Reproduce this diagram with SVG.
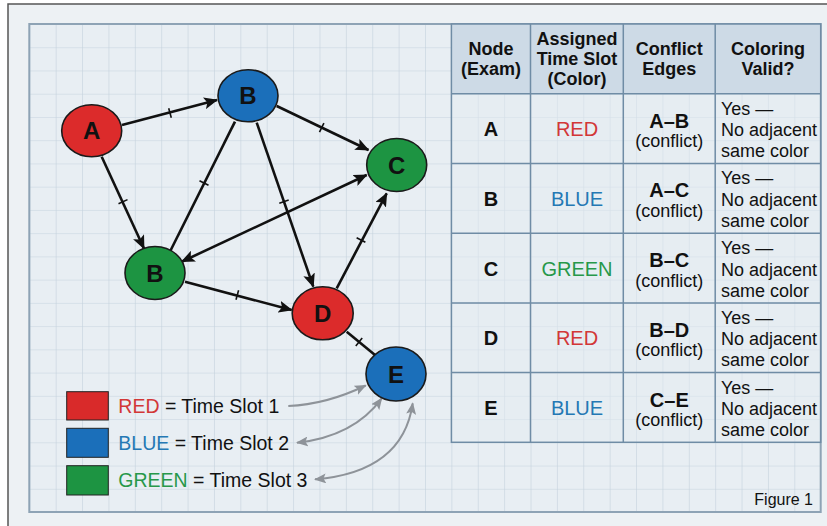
<svg xmlns="http://www.w3.org/2000/svg" width="827" height="526" viewBox="0 0 827 526">
<defs>
<style>
text{font-family:"Liberation Sans",Arial,sans-serif;fill:#111}
.lbl{font-size:24px;font-weight:bold;text-anchor:middle}
.node{stroke:#1a1a1a;stroke-width:1.6}
.red{fill:#dc2b2b}.blue{fill:#1b6fba}.green{fill:#1d9442}
.edge{stroke:#111;stroke-width:2.6;fill:none}
.tick{stroke:#111;stroke-width:1.6}
.gray{stroke:#8e9399;stroke-width:2;fill:none}
.hd{font-size:18px;font-weight:bold;text-anchor:middle}
.cell{font-size:18px;text-anchor:middle}
.big{font-size:20px;font-weight:bold;text-anchor:middle}
.col{font-size:20px;text-anchor:middle}
.val{font-size:18px}
.leg{font-size:19.5px}
.tl{stroke:#6f8ca5;stroke-width:1.5;fill:none}
</style>
<pattern id="grid" patternUnits="userSpaceOnUse" x="29.3" y="24" width="26.38" height="23.24">
<path d="M0 0H26.38M0 0V23.24" stroke="#c4d2dd" stroke-width="1.2" fill="none"/>
</pattern>
<marker id="ah" viewBox="0 0 14 12" refX="13" refY="6" markerWidth="14" markerHeight="12" markerUnits="userSpaceOnUse" orient="auto-start-reverse">
<path d="M0 0L14 6L0 12L3 6Z" fill="#111"/>
</marker>
<marker id="gh" viewBox="0 0 12 10" refX="11" refY="5" markerWidth="12" markerHeight="10" markerUnits="userSpaceOnUse" orient="auto-start-reverse">
<path d="M0 0L12 5L0 10L2.5 5Z" fill="#8e9399"/>
</marker>
</defs>
<rect x="0" y="0" width="827" height="526" fill="#ffffff"/>
<rect x="8" y="4" width="830" height="530" fill="#edf1f4" stroke="#555" stroke-width="1.5"/>
<rect x="29.3" y="24" width="791.4" height="488" fill="#e8eef3"/>
<rect x="29.3" y="24" width="791.4" height="488" fill="url(#grid)"/>
<rect x="29.3" y="24" width="791.4" height="488" fill="none" stroke="#8ea3b5" stroke-width="2"/>

<g id="table">
<rect x="451.4" y="24" width="369.3" height="69.7" fill="#cddae6"/>
<rect x="451.4" y="93.7" width="369.3" height="348.6" fill="#e4ebf1" fill-opacity="0.5"/>
<rect x="451.4" y="24" width="369.3" height="418.3" class="tl"/>
<path class="tl" d="M530.5 24V442.3M623.3 24V442.3M715.2 24V442.3M451.4 93.7H820.7M451.4 163.4H820.7M451.4 233.2H820.7M451.4 302.9H820.7M451.4 372.6H820.7"/>
<text class="hd" x="491" y="55">Node</text>
<text class="hd" x="491" y="75">(Exam)</text>
<text class="hd" x="577" y="45">Assigned</text>
<text class="hd" x="577" y="65">Time Slot</text>
<text class="hd" x="577" y="85">(Color)</text>
<text class="hd" x="669.3" y="55">Conflict</text>
<text class="hd" x="669.3" y="75">Edges</text>
<text class="hd" x="768" y="55">Coloring</text>
<text class="hd" x="768" y="75">Valid?</text>

<g id="rowA">
<text class="big" x="491" y="136">A</text>
<text class="col" x="577" y="136" style="fill:#d23737">RED</text>
<text class="big" x="669.3" y="127.5">A–B</text>
<text class="cell" x="669.3" y="147">(conflict)</text>
<text class="val" x="721" y="114.5">Yes —</text>
<text class="val" x="721" y="136">No adjacent</text>
<text class="val" x="721" y="157">same color</text>
</g>
<g id="rowB">
<text class="big" x="491" y="205.8">B</text>
<text class="col" x="577" y="205.8" style="fill:#2478b4">BLUE</text>
<text class="big" x="669.3" y="197.3">A–C</text>
<text class="cell" x="669.3" y="216.8">(conflict)</text>
<text class="val" x="721" y="184.3">Yes —</text>
<text class="val" x="721" y="205.8">No adjacent</text>
<text class="val" x="721" y="226.8">same color</text>
</g>
<g id="rowC">
<text class="big" x="491" y="275.5">C</text>
<text class="col" x="577" y="275.5" style="fill:#27984a">GREEN</text>
<text class="big" x="669.3" y="267">B–C</text>
<text class="cell" x="669.3" y="286.5">(conflict)</text>
<text class="val" x="721" y="254">Yes —</text>
<text class="val" x="721" y="275.5">No adjacent</text>
<text class="val" x="721" y="296.5">same color</text>
</g>
<g id="rowD">
<text class="big" x="491" y="345.3">D</text>
<text class="col" x="577" y="345.3" style="fill:#d23737">RED</text>
<text class="big" x="669.3" y="336.8">B–D</text>
<text class="cell" x="669.3" y="356.3">(conflict)</text>
<text class="val" x="721" y="323.8">Yes —</text>
<text class="val" x="721" y="345.3">No adjacent</text>
<text class="val" x="721" y="366.3">same color</text>
</g>
<g id="rowE">
<text class="big" x="491" y="415">E</text>
<text class="col" x="577" y="415" style="fill:#2478b4">BLUE</text>
<text class="big" x="669.3" y="406.5">C–E</text>
<text class="cell" x="669.3" y="426">(conflict)</text>
<text class="val" x="721" y="393.5">Yes —</text>
<text class="val" x="721" y="415">No adjacent</text>
<text class="val" x="721" y="436">same color</text>
</g>
</g>

<g id="connectors">
<line class="edge" x1="122" y1="125" x2="217" y2="100" marker-end="url(#ah)"/>
<line class="tick" x1="168.7" y1="108.2" x2="171.3" y2="117.8"/>
<line class="edge" x1="101.7" y1="156.7" x2="144" y2="248.5" marker-end="url(#ah)"/>
<line class="tick" x1="127.5" y1="199.6" x2="118.5" y2="203.8"/>
<line class="edge" x1="276.7" y1="106" x2="368.5" y2="150" marker-end="url(#ah)"/>
<line class="tick" x1="319.5" y1="132.2" x2="323.9" y2="123.2"/>
<line class="edge" x1="168.3" y1="255" x2="235" y2="121.7"/>
<line class="tick" x1="199.5" y1="180.8" x2="208.5" y2="185.2"/>
<line class="edge" x1="366.7" y1="175" x2="181.7" y2="261.7" marker-start="url(#ah)" marker-end="url(#ah)"/>
<line class="edge" x1="256.7" y1="122.7" x2="313.3" y2="286.7" marker-end="url(#ah)"/>
<line class="tick" x1="279.3" y1="203.3" x2="288.7" y2="200.1"/>
<line class="edge" x1="336.7" y1="288.3" x2="386.7" y2="193.3" marker-end="url(#ah)"/>
<line class="tick" x1="356.6" y1="237.7" x2="365.4" y2="242.3"/>
<line class="edge" x1="185" y1="281.7" x2="291.7" y2="310" marker-end="url(#ah)"/>
<line class="tick" x1="238.6" y1="290.2" x2="236" y2="299.8"/>
<line class="edge" x1="346.7" y1="331.7" x2="375" y2="355"/>
<line class="tick" x1="362.2" y1="338.1" x2="355.8" y2="345.9"/>
<path class="gray" d="M288.3 406Q326.3 404.5 365.7 385.5" marker-end="url(#gh)"/>
<path class="gray" d="M297 442.7Q354 436.3 381.7 398.3" marker-start="url(#gh)" marker-end="url(#gh)"/>
<path class="gray" d="M315 479.3Q402.8 472 412.7 403.3" marker-start="url(#gh)" marker-end="url(#gh)"/>
</g>

<g id="nodeA"><ellipse class="node red" cx="91.7" cy="130.7" rx="30" ry="26"/><text class="lbl" x="91.7" y="139.3">A</text></g>
<g id="nodeB"><ellipse class="node blue" cx="248" cy="95.7" rx="30" ry="26"/><text class="lbl" x="248" y="104.3">B</text></g>
<g id="nodeC"><ellipse class="node green" cx="396.7" cy="165" rx="30" ry="26.5"/><text class="lbl" x="396.7" y="173.6">C</text></g>
<g id="nodeB2"><ellipse class="node green" cx="155" cy="273" rx="30" ry="26.5"/><text class="lbl" x="155" y="281.6">B</text></g>
<g id="nodeD"><ellipse class="node red" cx="322.7" cy="313.3" rx="30.5" ry="26.5"/><text class="lbl" x="322.7" y="321.9">D</text></g>
<g id="nodeE"><ellipse class="node blue" cx="396" cy="374" rx="30" ry="27"/><text class="lbl" x="396" y="382.6">E</text></g>

<g id="legend">
<rect x="66.7" y="391.7" width="41.6" height="28.3" fill="#d92a2a" stroke="#222" stroke-width="1"/>
<rect x="66.7" y="428.3" width="41.6" height="29" fill="#1b6fba" stroke="#222" stroke-width="1"/>
<rect x="66.7" y="465.7" width="41.6" height="29.3" fill="#1d9442" stroke="#222" stroke-width="1"/>
<text class="leg" x="118.3" y="413.3"><tspan style="fill:#d23737">RED</tspan> = Time Slot 1</text>
<text class="leg" x="118.3" y="450"><tspan style="fill:#2478b4">BLUE</tspan> = Time Slot 2</text>
<text class="leg" x="118.3" y="487"><tspan style="fill:#27984a">GREEN</tspan> = Time Slot 3</text>
</g>
<text x="813" y="505" style="font-size:16px;text-anchor:end">Figure 1</text>
</svg>
